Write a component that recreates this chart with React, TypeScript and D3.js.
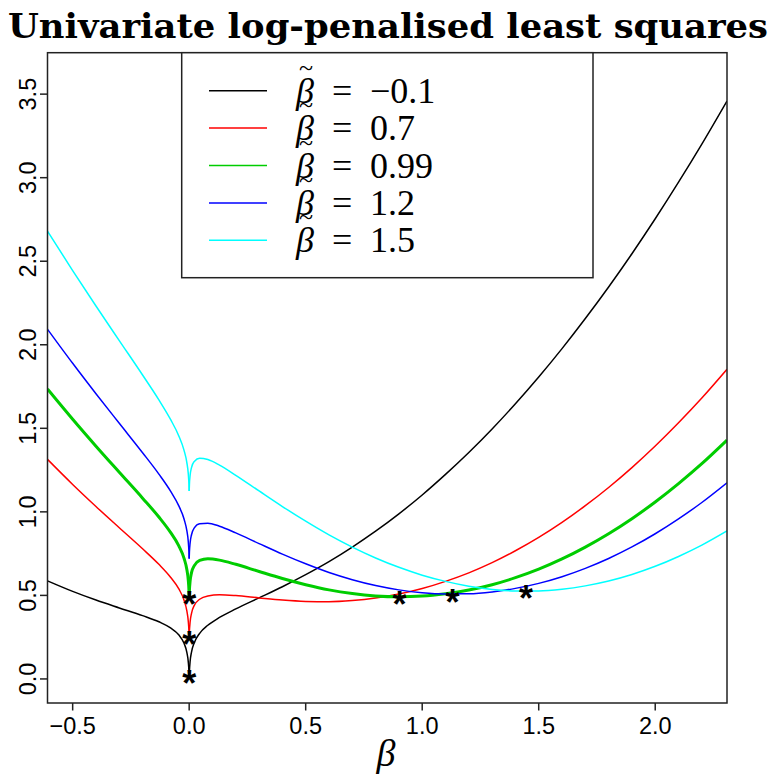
import React from "react";
import * as d3 from "d3";

// beta grid (x values) shared by all curves
const betaGrid = [
  -0.608, -0.5, -0.4, -0.3, -0.2, -0.13, -0.08, -0.045, -0.022, -0.01, -0.004, -0.001, 0,
  0.001, 0.004, 0.01, 0.022, 0.045, 0.08, 0.13, 0.2, 0.3, 0.4, 0.5, 0.6, 0.7, 0.8, 0.9,
  1.0, 1.1, 1.2, 1.3, 1.4, 1.5, 1.6, 1.7, 1.8, 1.9, 2.0, 2.1, 2.2, 2.308,
];

// objective values, one array per beta-tilde
const yBlack = [
  0.587, 0.524, 0.472, 0.425, 0.379, 0.342, 0.305, 0.264, 0.213, 0.159, 0.104, 0.044, 0.005,
  0.044, 0.105, 0.161, 0.217, 0.273, 0.321, 0.368, 0.419, 0.485, 0.552, 0.624, 0.702, 0.789, 0.884, 0.988,
  1.101, 1.224, 1.355, 1.496, 1.647, 1.807, 1.977, 2.157, 2.346, 2.545, 2.754, 2.973, 3.201, 3.459,
];
const yRed = [
  1.314, 1.164, 1.032, 0.905, 0.779, 0.686, 0.609, 0.54, 0.471, 0.407, 0.347, 0.285, 0.245,
  0.283, 0.341, 0.393, 0.44, 0.477, 0.497, 0.504, 0.499, 0.485, 0.472, 0.464, 0.462, 0.469, 0.484, 0.508,
  0.541, 0.584, 0.635, 0.696, 0.767, 0.847, 0.937, 1.037, 1.146, 1.265, 1.394, 1.533, 1.681, 1.853,
];
const yGreen = [
  1.735, 1.554, 1.393, 1.237, 1.082, 0.969, 0.877, 0.798, 0.722, 0.655, 0.593, 0.53, 0.49,
  0.528, 0.585, 0.636, 0.678, 0.709, 0.719, 0.711, 0.686, 0.643, 0.601, 0.564, 0.533, 0.511, 0.497, 0.492,
  0.496, 0.51, 0.532, 0.564, 0.606, 0.657, 0.718, 0.789, 0.869, 0.959, 1.059, 1.169, 1.288, 1.429,
];
const yBlue = [
  2.093, 1.889, 1.707, 1.53, 1.354, 1.226, 1.124, 1.037, 0.957, 0.887, 0.824, 0.76, 0.72,
  0.758, 0.814, 0.863, 0.904, 0.929, 0.932, 0.914, 0.874, 0.81, 0.747, 0.689, 0.637, 0.594, 0.559, 0.533,
  0.516, 0.509, 0.51, 0.521, 0.542, 0.572, 0.612, 0.662, 0.721, 0.79, 0.869, 0.958, 1.056, 1.174,
];
const yCyan = [
  2.68, 2.444, 2.232, 2.025, 1.819, 1.67, 1.553, 1.456, 1.368, 1.295, 1.23, 1.166, 1.125,
  1.163, 1.218, 1.265, 1.302, 1.321, 1.313, 1.28, 1.219, 1.125, 1.032, 0.944, 0.862, 0.789, 0.724, 0.668,
  0.621, 0.584, 0.555, 0.536, 0.527, 0.527, 0.537, 0.557, 0.586, 0.625, 0.674, 0.733, 0.801, 0.886,
];

const seriesValues = [yBlack, yRed, yGreen, yBlue, yCyan];
const legendLabels = ["−0.1", "0.7", "0.99", "1.2", "1.5"];
const seriesColors = ["#000000", "#FF0000", "#00CD00", "#0000FF", "#00FFFF"];
const seriesWidths = [1.5, 1.5, 3, 1.5, 1.5];

// minimiser markers
const starX = [0, 0, 0, 0.9026, 1.13, 1.445];
const starY = [0.018, 0.253, 0.4925, 0.4925, 0.507, 0.527];

const xTicks = [-0.5, 0.0, 0.5, 1.0, 1.5, 2.0];
const yTicks = [0.0, 0.5, 1.0, 1.5, 2.0, 2.5, 3.0, 3.5];

const W = 776;
const H = 782;
const L = 47.5, R = 727, T = 52.7, B = 703;

export default function App() {
  const x = d3.scaleLinear().domain([-0.608, 2.308]).range([L, R]);
  const y = d3.scaleLinear().domain([-0.144, 3.748]).range([B, T]);
  const line = d3
    .line<[number, number]>()
    .x((d) => x(d[0]))
    .y((d) => y(d[1]))
    .curve(d3.curveMonotoneX);

  const fmt = (v: number) => (v < 0 ? "−" : "") + Math.abs(v).toFixed(1);

  const legendRows = [0, 1, 2, 3, 4];
  const rowBase = (i: number) => 102.7 + i * 37.4;
  const starSize = 36;

  return (
    <div style={{ position: "absolute", left: 0, top: 0 }}>
      <svg width={W} height={H} style={{ display: "block", background: "#fff" }}>
        <defs>
          <clipPath id="plotclip">
            <rect x={L} y={T} width={R - L} height={B - T} />
          </clipPath>
        </defs>
        <rect x={0} y={0} width={W} height={H} fill="#fff" />
        <text
          x={W / 2}
          y={38}
          textAnchor="middle"
          fontFamily="'DejaVu Serif', serif"
          fontWeight="bold"
          fontSize={34}
          textLength={760}
          lengthAdjust="spacingAndGlyphs"
          fill="#000"
        >
          Univariate log-penalised least squares
        </text>

        {/* curves */}
        <g clipPath="url(#plotclip)">
          {seriesValues.map((vals, si) => {
            const pts: [number, number][] = betaGrid.map((b, i) => [b, vals[i]]);
            const left = pts.filter((p) => p[0] <= 0);
            const right = pts.filter((p) => p[0] >= 0);
            return (
              <g key={si}>
                <path d={line(left) || ""} fill="none" stroke={seriesColors[si]} strokeWidth={seriesWidths[si]} />
                <path d={line(right) || ""} fill="none" stroke={seriesColors[si]} strokeWidth={seriesWidths[si]} />
              </g>
            );
          })}
          {starX.map((sx, i) => (
            <text
              key={i}
              x={x(sx)}
              y={y(starY[i]) + starSize * 0.57}
              textAnchor="middle"
              fontFamily="'Liberation Sans', Arial, sans-serif"
              fontWeight="bold"
              fontSize={starSize}
              fill="#000"
            >
              *
            </text>
          ))}
        </g>

        {/* box */}
        <rect x={L} y={T} width={R - L} height={B - T} fill="none" stroke="#222" strokeWidth={1.5} />

        {/* x axis */}
        {xTicks.map((t) => (
          <g key={t}>
            <line x1={x(t)} x2={x(t)} y1={B} y2={B + 7.5} stroke="#222" strokeWidth={1.5} />
            <text
              x={x(t)}
              y={734}
              textAnchor="middle"
              fontFamily="'Liberation Sans', Arial, sans-serif"
              fontSize={23.5}
              fill="#000"
            >
              {fmt(t)}
            </text>
          </g>
        ))}
        {/* y axis */}
        {yTicks.map((t) => (
          <g key={t}>
            <line x1={L} x2={L - 7.5} y1={y(t)} y2={y(t)} stroke="#222" strokeWidth={1.5} />
            <text
              transform={`translate(36,${y(t)}) rotate(-90)`}
              textAnchor="middle"
              fontFamily="'Liberation Sans', Arial, sans-serif"
              fontSize={23.5}
              fill="#000"
            >
              {fmt(t)}
            </text>
          </g>
        ))}
        <text
          x={386}
          y={766}
          textAnchor="middle"
          fontFamily="'Liberation Serif', serif"
          fontStyle="italic"
          fontSize={38}
          fill="#000"
        >
          β
        </text>

        {/* legend */}
        <rect x={181.7} y={T} width={593 - 181.7} height={277.7 - T} fill="#fff" stroke="#222" strokeWidth={1.5} />
        {legendRows.map((i) => (
          <g key={i}>
            <line x1={209} x2={267} y1={rowBase(i) - 12} y2={rowBase(i) - 12} stroke={seriesColors[i]} strokeWidth={1.5} />
            <text y={rowBase(i)} fontFamily="'Liberation Serif', serif" fontSize={36} fill="#000">
              <tspan x={296} fontStyle="italic">β</tspan>
              <tspan x={299} y={rowBase(i) - 27} fontSize={26}>~</tspan>
              <tspan x={332} y={rowBase(i)}>=</tspan>
              <tspan x={370}>{legendLabels[i]}</tspan>
            </text>
          </g>
        ))}
      </svg>
    </div>
  );
}
